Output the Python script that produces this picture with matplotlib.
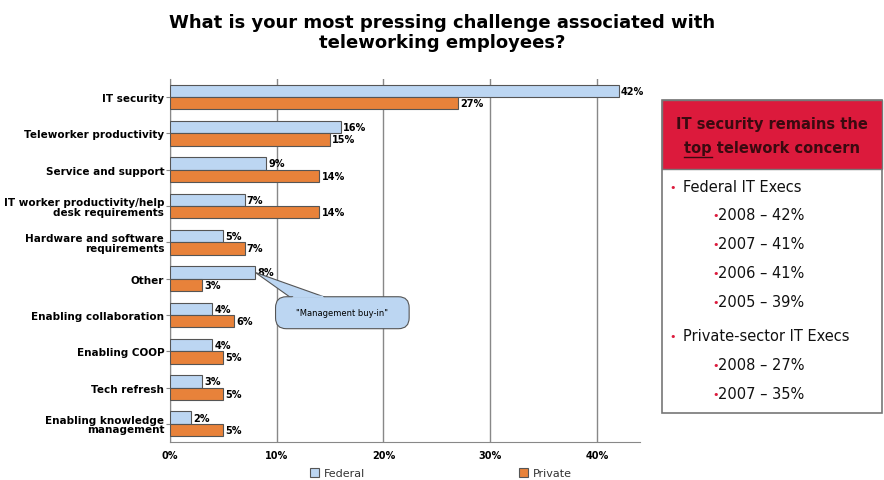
import matplotlib.pyplot as plt
import numpy as np
from matplotlib.patches import FancyBboxPatch, Rectangle, Polygon

categories = ['IT security', 'Teleworker productivity', 'Service and support',
              'IT worker productivity/help\ndesk requirements',
              'Hardware and software\nrequirements', 'Other',
              'Enabling collaboration', 'Enabling COOP', 'Tech refresh',
              'Enabling knowledge\nmanagement']
federal = [42, 16, 9, 7, 5, 8, 4, 4, 3, 2]
private = [27, 15, 14, 14, 7, 3, 6, 5, 5, 5]
ticks = [0, 10, 20, 30, 40]

fed_color = '#bcd6f2'
priv_color = '#e8823a'

fig = plt.figure(figsize=(8.84, 4.81), dpi=100)
ax = fig.add_axes([0.192, 0.079, 0.532, 0.755])

y = np.arange(len(categories))
h = 0.34
ax.barh(y - h / 2, federal, height=h, color=fed_color, edgecolor='#555555', linewidth=0.8, zorder=3)
ax.barh(y + h / 2, private, height=h, color=priv_color, edgecolor='#555555', linewidth=0.8, zorder=3)

for i in range(len(categories)):
    ax.text(federal[i] + 0.2, y[i] - h / 2, f'{federal[i]}%', va='center', ha='left',
            fontsize=7, fontweight='bold', zorder=4)
    ax.text(private[i] + 0.2, y[i] + h / 2, f'{private[i]}%', va='center', ha='left',
            fontsize=7, fontweight='bold', zorder=4)

ax.set_xlim(0, 44)
ax.set_ylim(len(categories) - 0.5, -0.5)
ax.set_yticks(y)
ax.set_yticklabels(categories, fontsize=7.5, fontweight='bold', linespacing=0.95)
ax.set_xticks(ticks)
ax.set_xticklabels([f'{t}%' for t in ticks], fontsize=7, fontweight='bold')
ax.xaxis.grid(True, color='#888888', linewidth=1.0, zorder=0)
for s in ['top', 'right']:
    ax.spines[s].set_visible(False)
ax.spines['left'].set_color('#888888')
ax.spines['bottom'].set_color('#888888')
ax.tick_params(axis='y', length=3, color='#888888', pad=1)
ax.tick_params(axis='x', length=0, pad=6)

# callout for "Other"
yo = y[5]
ax.add_patch(Polygon([[8.0, yo - h / 2], [11.3, yo + 0.52], [14.6, yo + 0.52]],
                     closed=True, facecolor=fed_color, edgecolor='#555555', linewidth=0.8, zorder=5))
box = FancyBboxPatch((9.9, yo + 0.5), 12.5, 0.88, boxstyle='round,pad=0,rounding_size=1.0',
                     facecolor=fed_color, edgecolor='#555555', linewidth=0.8, zorder=6,
                     mutation_aspect=0.3)
ax.add_patch(box)
ax.add_patch(Polygon([[11.45, yo + 0.53], [14.45, yo + 0.53], [14.3, yo + 0.47], [11.6, yo + 0.47]],
                     closed=True, facecolor=fed_color, edgecolor='none', zorder=7))
ax.text(16.15, yo + 0.94, '"Management buy-in"', fontsize=6, ha='center', va='center', zorder=8)

# legend
fig.patches.append(Rectangle((310 / 884, 1 - 478 / 481), 9 / 884, 9 / 481, transform=fig.transFigure,
                             facecolor=fed_color, edgecolor='#555555', linewidth=0.8))
fig.text(324 / 884, 1 - 474 / 481, 'Federal', fontsize=8, va='center', color='#333333')
fig.patches.append(Rectangle((519 / 884, 1 - 478 / 481), 9 / 884, 9 / 481, transform=fig.transFigure,
                             facecolor=priv_color, edgecolor='#555555', linewidth=0.8))
fig.text(533 / 884, 1 - 474 / 481, 'Private', fontsize=8, va='center', color='#333333')

# title
fig.text(0.5, 1 - 33 / 481, 'What is your most pressing challenge associated with\nteleworking employees?',
         ha='center', va='center', fontsize=13, fontweight='bold', linespacing=1.15)

# right side box
bx0, bx1 = 662 / 884, 882 / 884
by_top, by_head, by_bot = 1 - 101 / 481, 1 - 170 / 481, 1 - 414 / 481
fig.patches.append(Rectangle((bx0, by_bot), bx1 - bx0, by_top - by_bot, transform=fig.transFigure,
                             facecolor='white', edgecolor='#777777', linewidth=1.2))
fig.patches.append(Rectangle((bx0, by_head), bx1 - bx0, by_top - by_head, transform=fig.transFigure,
                             facecolor='#dc1a3c', edgecolor='#777777', linewidth=1.0))
head_col = '#3a0a10'
fig.text((bx0 + bx1) / 2, 1 - 124 / 481, 'IT security remains the', ha='center', va='center',
         fontsize=10.5, fontweight='bold', color=head_col)
t2 = fig.text((bx0 + bx1) / 2, 1 - 148 / 481, 'top telework concern', ha='center', va='center',
              fontsize=10.5, fontweight='bold', color=head_col)
tw = fig.text(0, 0, 'top', fontsize=10.5, fontweight='bold', alpha=0)
fig.canvas.draw()
r = fig.canvas.get_renderer()
b2 = t2.get_window_extent(r)
bw = tw.get_window_extent(r)
W, H = fig.bbox.width, fig.bbox.height
fig.lines.append(plt.Line2D([b2.x0 / W, (b2.x0 + bw.width) / W], [1 - 158 / 481, 1 - 158 / 481],
                            transform=fig.transFigure, color=head_col, linewidth=1.0))

items = [('Federal IT Execs', 0, 188), ('2008 – 42%', 1, 216), ('2007 – 41%', 1, 245),
         ('2006 – 41%', 1, 274), ('2005 – 39%', 1, 303), ('Private-sector IT Execs', 0, 337),
         ('2008 – 27%', 1, 366), ('2007 – 35%', 1, 395)]
for txt, lvl, py in items:
    if lvl == 0:
        fig.text(669 / 884, 1 - py / 481, '•', fontsize=8, color='#dc1a3c', va='center')
        fig.text(683 / 884, 1 - py / 481, txt, fontsize=10.5, va='center', color='#111111')
    else:
        fig.text(712 / 884, 1 - py / 481, '•', fontsize=8, color='#dc1a3c', va='center')
        fig.text(718 / 884, 1 - py / 481, txt, fontsize=10.5, va='center', color='#111111')

fig.savefig('out.png', dpi=100)
